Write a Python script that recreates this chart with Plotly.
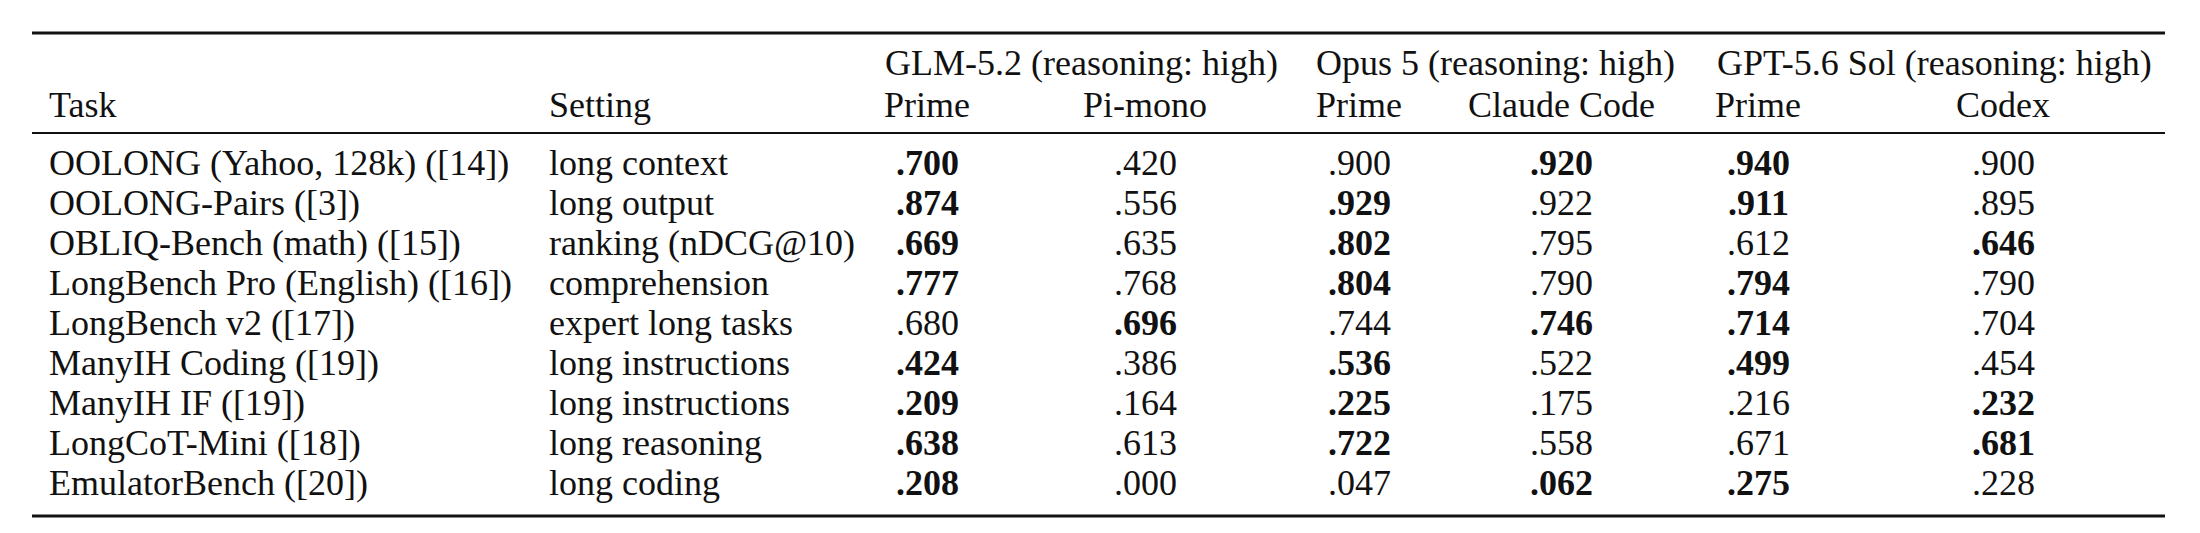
import plotly.graph_objects as go

# ---- data ----
tasks = [
    "OOLONG (Yahoo, 128k) ([14])",
    "OOLONG-Pairs ([3])",
    "OBLIQ-Bench (math) ([15])",
    "LongBench Pro (English) ([16])",
    "LongBench v2 ([17])",
    "ManyIH Coding ([19])",
    "ManyIH IF ([19])",
    "LongCoT-Mini ([18])",
    "EmulatorBench ([20])",
]
settings = [
    "long context",
    "long output",
    "ranking (nDCG@10)",
    "comprehension",
    "expert long tasks",
    "long instructions",
    "long instructions",
    "long reasoning",
    "long coding",
]
glm_prime = [0.700, 0.874, 0.669, 0.777, 0.680, 0.424, 0.209, 0.638, 0.208]
glm_pimono = [0.420, 0.556, 0.635, 0.768, 0.696, 0.386, 0.164, 0.613, 0.000]
opus_prime = [0.900, 0.929, 0.802, 0.804, 0.744, 0.536, 0.225, 0.722, 0.047]
opus_cc = [0.920, 0.922, 0.795, 0.790, 0.746, 0.522, 0.175, 0.558, 0.062]
gpt_prime = [0.940, 0.911, 0.612, 0.794, 0.714, 0.499, 0.216, 0.671, 0.275]
gpt_codex = [0.900, 0.895, 0.646, 0.790, 0.704, 0.454, 0.232, 0.681, 0.228]

group_labels = ["GLM-5.2 (reasoning: high)", "Opus 5 (reasoning: high)", "GPT-5.6 Sol (reasoning: high)"]
sub_labels = ["Prime", "Pi-mono", "Prime", "Claude Code", "Prime", "Codex"]
col_labels = ["Task", "Setting"]

# ---- layout / style ----
W, H = 2200, 533
FONT = "Liberation Serif"
FS = 36
COLOR = "#111111"

x_task = 39
x_setting = 539
group_left = [875, 1306, 1707]
value_centers = [919, 1137, 1351, 1553, 1750, 1995]
y_head1 = 55
y_head2 = 97
y_row0 = 155
row_step = 40
rule_x0, rule_x1 = 24, 2157

def fmt(v):
    return f"{v:.3f}".lstrip("0") if v < 1 else f"{v:.3f}"

annotations = []

def add_text(x, y, text, xanchor="left", bold=False):
    annotations.append(dict(
        x=x, y=y, xref="x", yref="y", text=f"<b>{text}</b>" if bold else text,
        showarrow=False, xanchor=xanchor, yanchor="middle",
        font=dict(family=FONT, size=FS, color=COLOR),
    ))

# headers
add_text(x_task, y_head2, col_labels[0])
add_text(x_setting, y_head2, col_labels[1])
for gx, gl in zip(group_left, group_labels):
    add_text(gx, y_head1, gl)
for cx, sl in zip(value_centers, sub_labels):
    add_text(cx, y_head2, sl, xanchor="center")

# body
pairs = [(glm_prime, glm_pimono), (opus_prime, opus_cc), (gpt_prime, gpt_codex)]
for i, (t, s) in enumerate(zip(tasks, settings)):
    y = y_row0 + i * row_step
    add_text(x_task, y, t)
    add_text(x_setting, y, s)
    for g, (a, b) in enumerate(pairs):
        va, vb = a[i], b[i]
        add_text(value_centers[2 * g], y, fmt(va), xanchor="center", bold=va >= vb)
        add_text(value_centers[2 * g + 1], y, fmt(vb), xanchor="center", bold=vb > va)

shapes = [
    dict(type="line", xref="x", yref="y", x0=rule_x0, x1=rule_x1, y0=25, y1=25,
         line=dict(color="#111111", width=3)),
    dict(type="line", xref="x", yref="y", x0=rule_x0, x1=rule_x1, y0=125, y1=125,
         line=dict(color="#111111", width=2)),
    dict(type="line", xref="x", yref="y", x0=rule_x0, x1=rule_x1, y0=508, y1=508,
         line=dict(color="#111111", width=3)),
]

fig = go.Figure()
fig.update_layout(
    width=W, height=H,
    margin=dict(l=0, r=0, t=0, b=0),
    paper_bgcolor="white", plot_bgcolor="white",
    xaxis=dict(range=[0, W], visible=False, fixedrange=True),
    yaxis=dict(range=[H, 0], visible=False, fixedrange=True),
    annotations=annotations,
    shapes=shapes,
    showlegend=False,
)
fig.write_html("out.html", config={"displayModeBar": False})
